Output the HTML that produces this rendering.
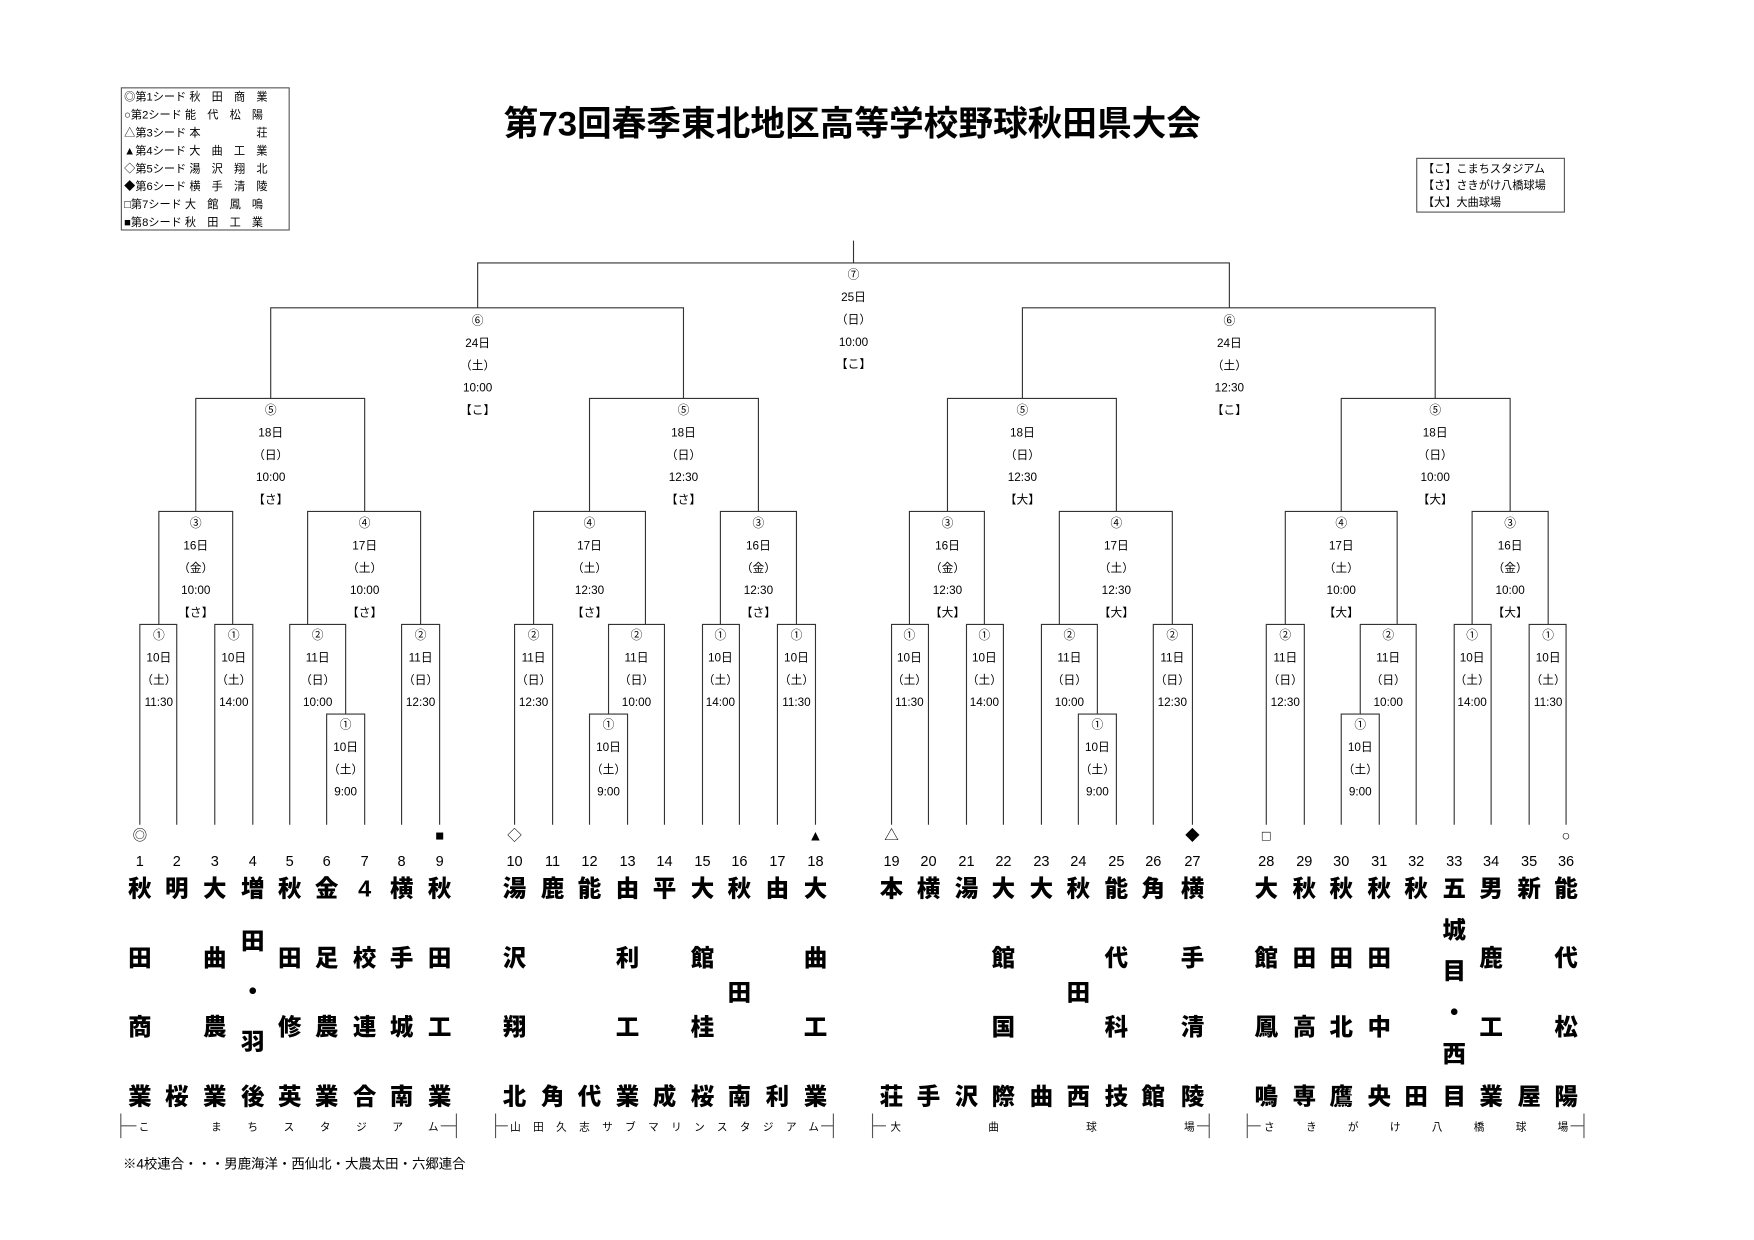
<!DOCTYPE html>
<html><head><meta charset="utf-8"><style>
html,body{margin:0;padding:0;background:#fff;}
svg{display:block;}
text{font-family:"Liberation Sans","Noto Sans CJK JP",sans-serif;fill:#000;}
.l{font-size:10.5px;text-anchor:middle;}
.n{font-size:13px;text-anchor:middle;}
.t{font-size:21px;font-weight:900;text-anchor:middle;}
.s{font-size:13px;text-anchor:middle;}
.g{font-size:10px;}
</style></head><body>
<svg width="1754" height="1240" viewBox="0 0 1568 1108" preserveAspectRatio="none" xmlns="http://www.w3.org/2000/svg">
<rect width="1568" height="1108" fill="#fff"/>
<text x="762" y="121" style="font-size:31px;font-weight:bold;text-anchor:middle">第73回春季東北地区高等学校野球秋田県大会</text>
<rect x="108.5" y="78.5" width="150" height="127" fill="none" stroke="#555" stroke-width="1"/>
<g class="g">
<text x="111" y="90">◎第1シード 秋　田　商　業</text>
<text x="111" y="106">○第2シード 能　代　松　陽</text>
<text x="111" y="122">△第3シード 本　　　　　荘</text>
<text x="111" y="138">▲第4シード 大　曲　工　業</text>
<text x="111" y="154">◇第5シード 湯　沢　翔　北</text>
<text x="111" y="170">◆第6シード 横　手　清　陵</text>
<text x="111" y="186">□第7シード 大　館　鳳　鳴</text>
<text x="111" y="202">■第8シード 秋　田　工　業</text>
</g>
<rect x="1266.5" y="141.5" width="132" height="48" fill="none" stroke="#555" stroke-width="1"/>
<g class="g">
<text x="1272" y="154">【こ】こまちスタジアム</text>
<text x="1272" y="169">【さ】さきがけ八橋球場</text>
<text x="1272" y="184">【大】大曲球場</text>
</g>
<path fill="none" stroke="#333" stroke-width="1" d="
M125 737V558H158V737 M192 737V558H226V737 M259 737V558H309V638 M292 737V638H326V737 M359 737V558H393V737
M142 558V457H208V558 M275 558V457H376V558 M175 457V356H326V457
M460 737V558H494V737 M544 638V558H594V737 M527 737V638H561V737 M628 737V558H661V737 M695 737V558H729V737
M477 558V457H577V558 M644 558V457H712V558 M527 457V356H678V457
M797 737V558H830V737 M864 737V558H897V737 M931 737V558H981V638 M964 737V638H998V737 M1031 737V558H1066V737
M813 558V457H880V558 M947 558V457H1048V558 M847 457V356H998V457
M1132 737V558H1166V737 M1216 638V558H1266V737 M1199 737V638H1233V737 M1300 737V558H1333V737 M1367 737V558H1400V737
M1149 558V457H1249V558 M1316 558V457H1384V558 M1199 457V356H1350V457
M242 356V275H611V356 M914 356V275H1283V356
M427 275V235H1099V275 M763 235V215"/>
<g class="l">
<text x="763" y="249">⑦</text><text x="763" y="269">25日</text><text x="763" y="289">（日）</text><text x="763" y="309">10:00</text><text x="763" y="329">【こ】</text>
<text x="427" y="290">⑥</text><text x="427" y="310">24日</text><text x="427" y="330">（土）</text><text x="427" y="350">10:00</text><text x="427" y="370">【こ】</text>
<text x="1099" y="290">⑥</text><text x="1099" y="310">24日</text><text x="1099" y="330">（土）</text><text x="1099" y="350">12:30</text><text x="1099" y="370">【こ】</text>
<text x="242" y="370">⑤</text><text x="242" y="390">18日</text><text x="242" y="410">（日）</text><text x="242" y="430">10:00</text><text x="242" y="450">【さ】</text>
<text x="611" y="370">⑤</text><text x="611" y="390">18日</text><text x="611" y="410">（日）</text><text x="611" y="430">12:30</text><text x="611" y="450">【さ】</text>
<text x="914" y="370">⑤</text><text x="914" y="390">18日</text><text x="914" y="410">（日）</text><text x="914" y="430">12:30</text><text x="914" y="450">【大】</text>
<text x="1283" y="370">⑤</text><text x="1283" y="390">18日</text><text x="1283" y="410">（日）</text><text x="1283" y="430">10:00</text><text x="1283" y="450">【大】</text>
<text x="175" y="471">③</text><text x="175" y="491">16日</text><text x="175" y="511">（金）</text><text x="175" y="531">10:00</text><text x="175" y="551">【さ】</text>
<text x="326" y="471">④</text><text x="326" y="491">17日</text><text x="326" y="511">（土）</text><text x="326" y="531">10:00</text><text x="326" y="551">【さ】</text>
<text x="527" y="471">④</text><text x="527" y="491">17日</text><text x="527" y="511">（土）</text><text x="527" y="531">12:30</text><text x="527" y="551">【さ】</text>
<text x="678" y="471">③</text><text x="678" y="491">16日</text><text x="678" y="511">（金）</text><text x="678" y="531">12:30</text><text x="678" y="551">【さ】</text>
<text x="847" y="471">③</text><text x="847" y="491">16日</text><text x="847" y="511">（金）</text><text x="847" y="531">12:30</text><text x="847" y="551">【大】</text>
<text x="998" y="471">④</text><text x="998" y="491">17日</text><text x="998" y="511">（土）</text><text x="998" y="531">12:30</text><text x="998" y="551">【大】</text>
<text x="1199" y="471">④</text><text x="1199" y="491">17日</text><text x="1199" y="511">（土）</text><text x="1199" y="531">10:00</text><text x="1199" y="551">【大】</text>
<text x="1350" y="471">③</text><text x="1350" y="491">16日</text><text x="1350" y="511">（金）</text><text x="1350" y="531">10:00</text><text x="1350" y="551">【大】</text>
<text x="142" y="571">①</text><text x="142" y="591">10日</text><text x="142" y="611">（土）</text><text x="142" y="631">11:30</text>
<text x="209" y="571">①</text><text x="209" y="591">10日</text><text x="209" y="611">（土）</text><text x="209" y="631">14:00</text>
<text x="284" y="571">②</text><text x="284" y="591">11日</text><text x="284" y="611">（日）</text><text x="284" y="631">10:00</text>
<text x="309" y="651">①</text><text x="309" y="671">10日</text><text x="309" y="691">（土）</text><text x="309" y="711">9:00</text>
<text x="376" y="571">②</text><text x="376" y="591">11日</text><text x="376" y="611">（日）</text><text x="376" y="631">12:30</text>
<text x="477" y="571">②</text><text x="477" y="591">11日</text><text x="477" y="611">（日）</text><text x="477" y="631">12:30</text>
<text x="569" y="571">②</text><text x="569" y="591">11日</text><text x="569" y="611">（日）</text><text x="569" y="631">10:00</text>
<text x="544" y="651">①</text><text x="544" y="671">10日</text><text x="544" y="691">（土）</text><text x="544" y="711">9:00</text>
<text x="644" y="571">①</text><text x="644" y="591">10日</text><text x="644" y="611">（土）</text><text x="644" y="631">14:00</text>
<text x="712" y="571">①</text><text x="712" y="591">10日</text><text x="712" y="611">（土）</text><text x="712" y="631">11:30</text>
<text x="813" y="571">①</text><text x="813" y="591">10日</text><text x="813" y="611">（土）</text><text x="813" y="631">11:30</text>
<text x="880" y="571">①</text><text x="880" y="591">10日</text><text x="880" y="611">（土）</text><text x="880" y="631">14:00</text>
<text x="956" y="571">②</text><text x="956" y="591">11日</text><text x="956" y="611">（日）</text><text x="956" y="631">10:00</text>
<text x="981" y="651">①</text><text x="981" y="671">10日</text><text x="981" y="691">（土）</text><text x="981" y="711">9:00</text>
<text x="1048" y="571">②</text><text x="1048" y="591">11日</text><text x="1048" y="611">（日）</text><text x="1048" y="631">12:30</text>
<text x="1149" y="571">②</text><text x="1149" y="591">11日</text><text x="1149" y="611">（日）</text><text x="1149" y="631">12:30</text>
<text x="1241" y="571">②</text><text x="1241" y="591">11日</text><text x="1241" y="611">（日）</text><text x="1241" y="631">10:00</text>
<text x="1216" y="651">①</text><text x="1216" y="671">10日</text><text x="1216" y="691">（土）</text><text x="1216" y="711">9:00</text>
<text x="1316" y="571">①</text><text x="1316" y="591">10日</text><text x="1316" y="611">（土）</text><text x="1316" y="631">14:00</text>
<text x="1384" y="571">①</text><text x="1384" y="591">10日</text><text x="1384" y="611">（土）</text><text x="1384" y="631">11:30</text>
</g>
<g class="s">
<text x="125" y="751">◎</text><text x="393" y="751">■</text><text x="460" y="751">◇</text><text x="729" y="751">▲</text>
<text x="797" y="751">△</text><text x="1066" y="751">◆</text><text x="1132" y="751">□</text><text x="1400" y="751">○</text>
</g>
<g class="n">
<text x="125" y="774">1</text><text x="158" y="774">2</text><text x="192" y="774">3</text><text x="226" y="774">4</text><text x="259" y="774">5</text><text x="292" y="774">6</text><text x="326" y="774">7</text><text x="359" y="774">8</text><text x="393" y="774">9</text>
<text x="460" y="774">10</text><text x="494" y="774">11</text><text x="527" y="774">12</text><text x="561" y="774">13</text><text x="594" y="774">14</text><text x="628" y="774">15</text><text x="661" y="774">16</text><text x="695" y="774">17</text><text x="729" y="774">18</text>
<text x="797" y="774">19</text><text x="830" y="774">20</text><text x="864" y="774">21</text><text x="897" y="774">22</text><text x="931" y="774">23</text><text x="964" y="774">24</text><text x="998" y="774">25</text><text x="1031" y="774">26</text><text x="1066" y="774">27</text>
<text x="1132" y="774">28</text><text x="1166" y="774">29</text><text x="1199" y="774">30</text><text x="1233" y="774">31</text><text x="1266" y="774">32</text><text x="1300" y="774">33</text><text x="1333" y="774">34</text><text x="1367" y="774">35</text><text x="1400" y="774">36</text>
</g>
<g class="t">
<text x="125" y="801">秋</text><text x="125" y="863">田</text><text x="125" y="925">商</text><text x="125" y="987">業</text>
<text x="158" y="801">明</text><text x="158" y="987">桜</text>
<text x="192" y="801">大</text><text x="192" y="863">曲</text><text x="192" y="925">農</text><text x="192" y="987">業</text>
<text x="226" y="801">増</text><text x="226" y="848">田</text><text x="226" y="893">・</text><text x="226" y="938">羽</text><text x="226" y="987">後</text>
<text x="259" y="801">秋</text><text x="259" y="863">田</text><text x="259" y="925">修</text><text x="259" y="987">英</text>
<text x="292" y="801">金</text><text x="292" y="863">足</text><text x="292" y="925">農</text><text x="292" y="987">業</text>
<text x="326" y="801">4</text><text x="326" y="863">校</text><text x="326" y="925">連</text><text x="326" y="987">合</text>
<text x="359" y="801">横</text><text x="359" y="863">手</text><text x="359" y="925">城</text><text x="359" y="987">南</text>
<text x="393" y="801">秋</text><text x="393" y="863">田</text><text x="393" y="925">工</text><text x="393" y="987">業</text>
<text x="460" y="801">湯</text><text x="460" y="863">沢</text><text x="460" y="925">翔</text><text x="460" y="987">北</text>
<text x="494" y="801">鹿</text><text x="494" y="987">角</text>
<text x="527" y="801">能</text><text x="527" y="987">代</text>
<text x="561" y="801">由</text><text x="561" y="863">利</text><text x="561" y="925">工</text><text x="561" y="987">業</text>
<text x="594" y="801">平</text><text x="594" y="987">成</text>
<text x="628" y="801">大</text><text x="628" y="863">館</text><text x="628" y="925">桂</text><text x="628" y="987">桜</text>
<text x="661" y="801">秋</text><text x="661" y="894">田</text><text x="661" y="987">南</text>
<text x="695" y="801">由</text><text x="695" y="987">利</text>
<text x="729" y="801">大</text><text x="729" y="863">曲</text><text x="729" y="925">工</text><text x="729" y="987">業</text>
<text x="797" y="801">本</text><text x="797" y="987">荘</text>
<text x="830" y="801">横</text><text x="830" y="987">手</text>
<text x="864" y="801">湯</text><text x="864" y="987">沢</text>
<text x="897" y="801">大</text><text x="897" y="863">館</text><text x="897" y="925">国</text><text x="897" y="987">際</text>
<text x="931" y="801">大</text><text x="931" y="987">曲</text>
<text x="964" y="801">秋</text><text x="964" y="894">田</text><text x="964" y="987">西</text>
<text x="998" y="801">能</text><text x="998" y="863">代</text><text x="998" y="925">科</text><text x="998" y="987">技</text>
<text x="1031" y="801">角</text><text x="1031" y="987">館</text>
<text x="1066" y="801">横</text><text x="1066" y="863">手</text><text x="1066" y="925">清</text><text x="1066" y="987">陵</text>
<text x="1132" y="801">大</text><text x="1132" y="863">館</text><text x="1132" y="925">鳳</text><text x="1132" y="987">鳴</text>
<text x="1166" y="801">秋</text><text x="1166" y="863">田</text><text x="1166" y="925">高</text><text x="1166" y="987">専</text>
<text x="1199" y="801">秋</text><text x="1199" y="863">田</text><text x="1199" y="925">北</text><text x="1199" y="987">鷹</text>
<text x="1233" y="801">秋</text><text x="1233" y="863">田</text><text x="1233" y="925">中</text><text x="1233" y="987">央</text>
<text x="1266" y="801">秋</text><text x="1266" y="987">田</text>
<text x="1300" y="801">五</text><text x="1300" y="838">城</text><text x="1300" y="875">目</text><text x="1300" y="912">・</text><text x="1300" y="949">西</text><text x="1300" y="987">目</text>
<text x="1333" y="801">男</text><text x="1333" y="863">鹿</text><text x="1333" y="925">工</text><text x="1333" y="987">業</text>
<text x="1367" y="801">新</text><text x="1367" y="987">屋</text>
<text x="1400" y="801">能</text><text x="1400" y="863">代</text><text x="1400" y="925">松</text><text x="1400" y="987">陽</text>
</g>
<path fill="none" stroke="#555" stroke-width="1" d="M108 995V1017 M108 1006H122 M394 1006H408 M408 995V1017
M443 995V1017 M443 1006H454 M734 1006H745 M745 995V1017
M780 995V1017 M780 1006H792 M1070 1006H1081 M1081 995V1017
M1115 995V1017 M1115 1006H1127 M1404 1006H1416 M1416 995V1017"/>
<g style="font-size:9.5px">
<text x="124" y="1010" textLength="268" lengthAdjust="spacing">こ　まちスタジアム</text>
<text x="456" y="1010" textLength="276" lengthAdjust="spacing">山田久志サブマリンスタジアム</text>
<text x="796" y="1010" textLength="272" lengthAdjust="spacing">大曲球場</text>
<text x="1130" y="1010" textLength="272" lengthAdjust="spacing">さきがけ八橋球場</text>
</g>
<text x="110" y="1044" style="font-size:12px">※4校連合・・・男鹿海洋・西仙北・大農太田・六郷連合</text>
</svg>
</body></html>
